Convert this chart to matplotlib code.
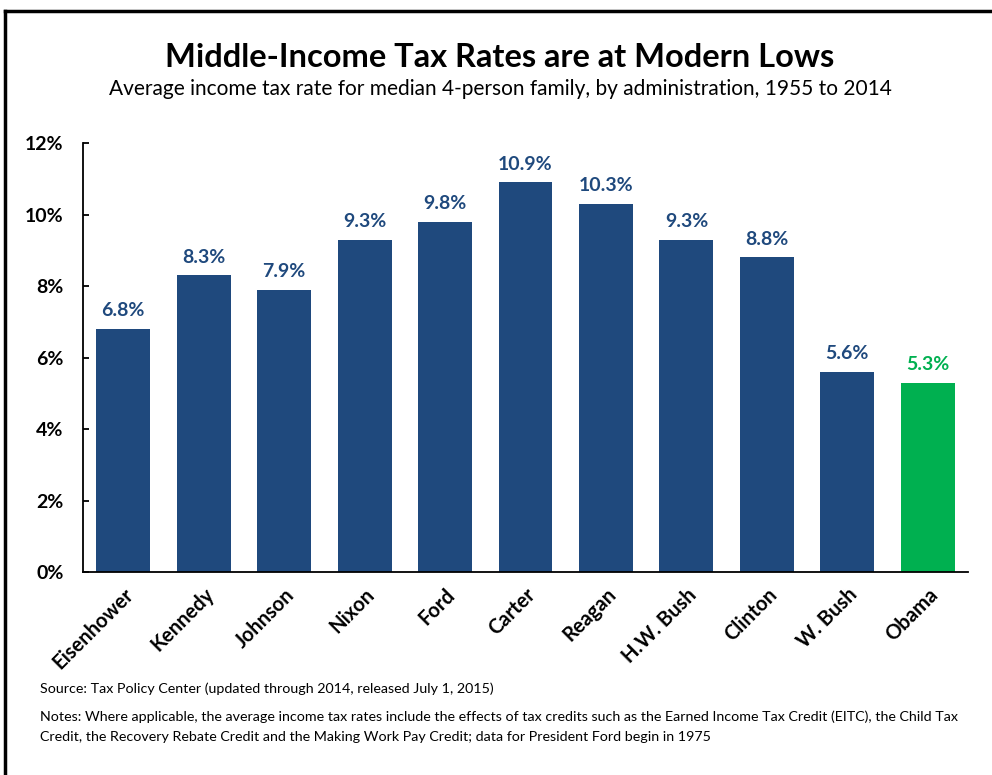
import numpy as np
import matplotlib.pyplot as plt
from matplotlib.lines import Line2D

plt.rcParams['font.family'] = ['Lato', 'DejaVu Sans']

# data
presidents = ['Eisenhower', 'Kennedy', 'Johnson', 'Nixon', 'Ford', 'Carter',
              'Reagan', 'H.W. Bush', 'Clinton', 'W. Bush', 'Obama']
tax_rate = [6.8, 8.3, 7.9, 9.3, 9.8, 10.9, 10.3, 9.3, 8.8, 5.6, 5.3]
yticks = [0, 2, 4, 6, 8, 10, 12]

blue = '#1F497D'
green = '#00B050'
colors = [blue] * (len(presidents) - 1) + [green]

fig = plt.figure(figsize=(9.92, 7.75), dpi=100)
ax = fig.add_axes([0.0837, 0.2619, 0.8921, 0.5535])

x = np.arange(len(presidents))
bars = ax.bar(x, tax_rate, width=0.67, color=colors)

# value labels on top of bars
for xi, v, c in zip(x, tax_rate, colors):
    ax.annotate(f'{v:.1f}%', (xi, v), xytext=(0, 7), textcoords='offset points',
                ha='center', va='bottom', fontsize=14, fontweight='bold', color=c)

ax.set_xlim(-0.5, len(presidents) - 0.5)
ax.set_ylim(0, 12)
ax.set_yticks(yticks)
ax.set_yticklabels([f'{t}%' for t in yticks], fontsize=14, fontweight='bold')
ax.set_xticks(x)
ax.set_xticklabels(presidents, rotation=45, ha='right', rotation_mode='anchor',
                   fontsize=14.5, fontweight='bold')

ax.spines['top'].set_visible(False)
ax.spines['right'].set_visible(False)
ax.spines['left'].set_linewidth(1.3)
ax.spines['bottom'].set_linewidth(1.3)
ax.tick_params(axis='y', direction='in', length=4, width=1.3, pad=14)
ax.tick_params(axis='x', length=0, pad=9)

# titles
fig.text(0.504, 0.914, 'Middle-Income Tax Rates are at Modern Lows',
         ha='center', va='baseline', fontsize=23.5, fontweight='bold')
fig.text(0.504, 0.878, 'Average income tax rate for median 4-person family, by administration, 1955 to 2014',
         ha='center', va='baseline', fontsize=15)

# footer
fig.text(0.040, 0.106, 'Source: Tax Policy Center (updated through 2014, released July 1, 2015)',
         ha='left', va='baseline', fontsize=10.3)
fig.text(0.040, 0.070, 'Notes: Where applicable, the average income tax rates include the effects of tax credits such as the Earned Income Tax Credit (EITC), the Child Tax',
         ha='left', va='baseline', fontsize=10.3)
fig.text(0.040, 0.044, 'Credit, the Recovery Rebate Credit and the Making Work Pay Credit; data for President Ford begin in 1975',
         ha='left', va='baseline', fontsize=10.3)

# border (top and left edges visible)
fig.add_artist(Line2D([0.005, 1.0], [0.986, 0.986], transform=fig.transFigure, color='black', lw=2.5))
fig.add_artist(Line2D([0.005, 0.005], [0.0, 0.986], transform=fig.transFigure, color='black', lw=2.5))

fig.savefig('out.png', dpi=100)
